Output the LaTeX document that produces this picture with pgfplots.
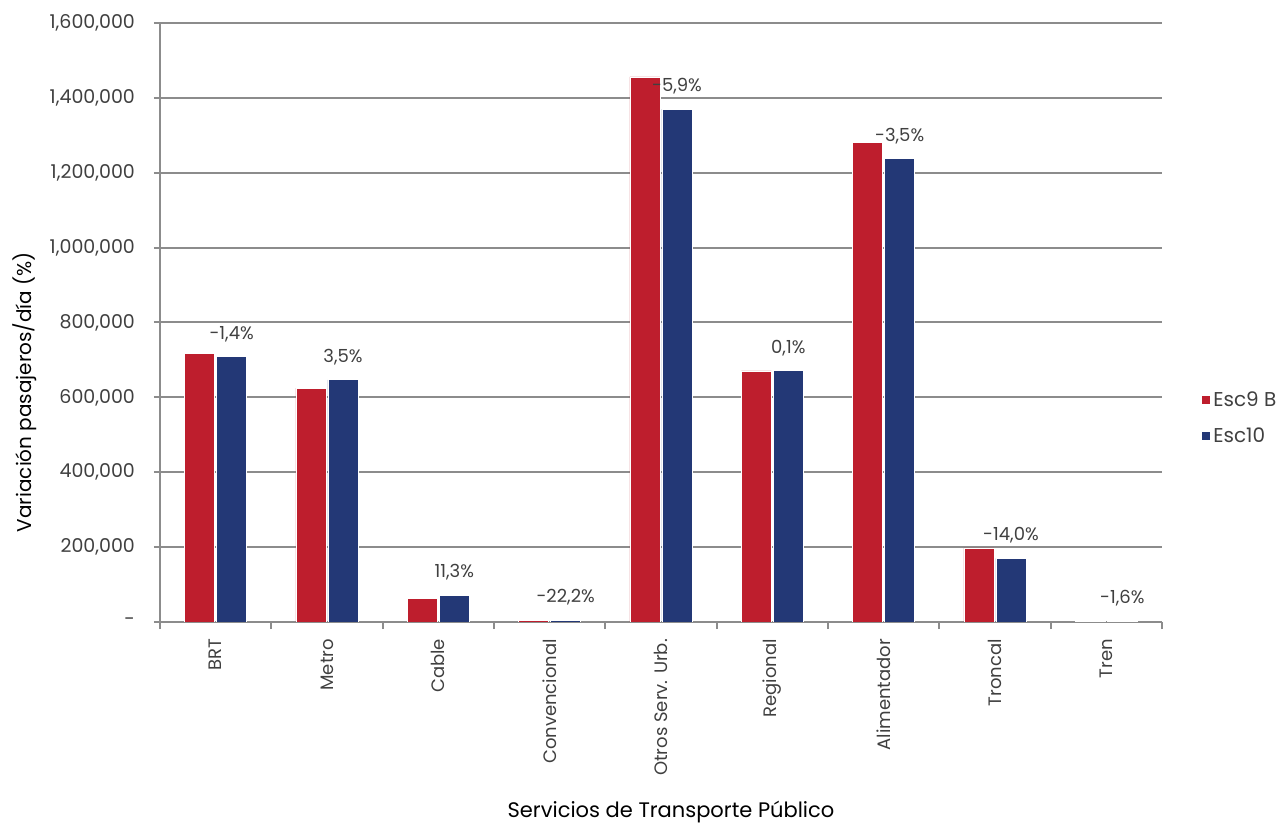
\documentclass[border=0pt]{standalone}
\usepackage{pgfplots}
\usepackage{pgfplotstable}
\pgfplotsset{compat=1.18}
\usepackage{fontspec}
\setmainfont{Poppins}
\definecolor{cred}{RGB}{190,30,45}
\definecolor{cblue}{RGB}{35,56,118}
\definecolor{cgrid}{RGB}{140,140,140}
\definecolor{ctext}{RGB}{64,64,64}
\pgfplotstableread{
x esc9 esc10 lab
0 718500 708400 -1,4
1 625000 646900 3,5
2 64100 71300 11,3
3 5000 3900 -22,2
4 1455800 1369700 -5,9
5 670500 671100 0,1
6 1282100 1237200 -3,5
7 197700 170000 -14,0
8 2000 1970 -1,6
}\data
\begin{document}
\begin{tikzpicture}
\useasboundingbox (-80pt,-100.5pt) rectangle (564pt,311pt);
\begin{axis}[
  at={(0,0)}, anchor=south west,
  scale only axis, width=501pt, height=299.5pt,
  xmin=-0.5, xmax=8.5, ymin=0, ymax=1600000,
  axis x line*=bottom, axis y line*=left,
  axis line style={cgrid, line width=1pt},
  ymajorgrids, grid style={cgrid, line width=1pt},
  ytick={0,200000,...,1600000},
  yticklabels={{-},{200,000},{400,000},{600,000},{800,000},{1,000,000},{1,200,000},{1,400,000},{1,600,000}},
  scaled y ticks=false,
  xtick={0,...,8},
  xticklabels={BRT,Metro,Cable,Convencional,Otros Serv. Urb.,Regional,Alimentador,Troncal,Tren},
  minor xtick={-0.5,0.5,...,8.5},
  tick align=outside,
  major x tick style={draw=none},
  minor tick length=3.5pt,
  major tick length=3pt,
  tick style={cgrid, line width=1pt},
  x tick label style={rotate=90, anchor=east, font=\fontsize{9}{11}\selectfont, text=ctext, xshift=-2pt},
  y tick label style={font=\fontsize{9.5}{11}\selectfont, text=ctext, xshift=-6pt},
  xlabel={Servicios de Transporte Público},
  ylabel={Variación pasajeros/día (\%)},
  every axis x label/.style={at={(axis description cs:0.51,-0.317)}, anchor=center, font=\fontsize{10.5}{12}\selectfont},
  every axis y label/.style={at={(axis description cs:-0.1347,0.384)}, anchor=center, rotate=90, font=\fontsize{10}{12}\selectfont},
  legend style={at={(axis description cs:1,0.34)}, anchor=west, xshift=20pt, draw=none, fill=none,
    font=\fontsize{10}{12}\selectfont, text=ctext, row sep=6pt, inner sep=0pt,
    nodes={inner sep=1.5pt}},
  legend cell align=left,
  legend image code/.code={\fill[#1, draw=none] (0pt,-2pt) rectangle (4pt,2pt);},
]
\addplot[ybar, bar width=15pt, bar shift=-8pt, fill=cred, draw=white, line width=0.4pt] table[x=x, y=esc9] \data;
\addlegendentry{Esc9 B}
\addplot[ybar, bar width=15pt, bar shift=8pt, fill=cblue, draw=white, line width=0.4pt,
  point meta=explicit symbolic,
  nodes near coords={\pgfplotspointmeta\%},
  every node near coord/.append style={anchor=center, xshift=8pt, yshift=11.5pt, font=\fontsize{9}{11}\selectfont, text=ctext}
  ] table[x=x, y=esc10, meta=lab] \data;
\addlegendentry{Esc10}
\end{axis}
\end{tikzpicture}
\end{document}
